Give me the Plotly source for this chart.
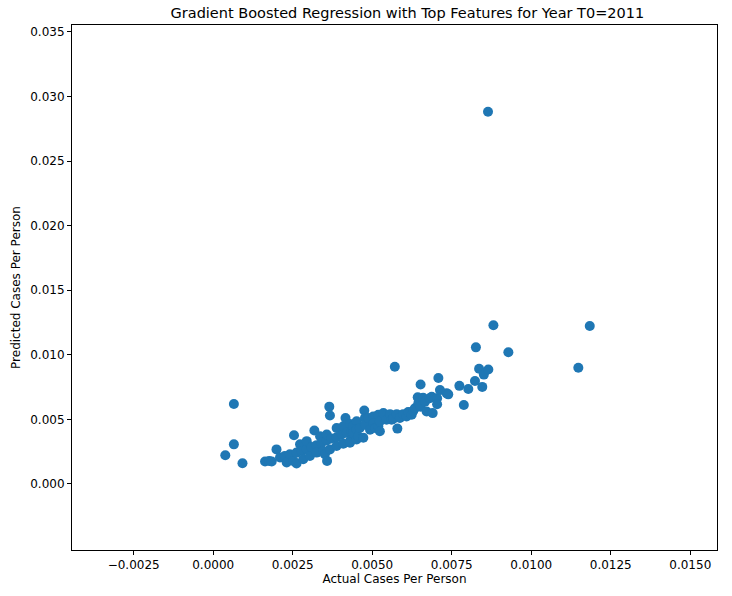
import plotly.graph_objects as go

actual = [0.00065, 0.00065, 0.00038, 0.00092, 0.00163, 0.00176, 0.00184, 0.00199, 0.00210, 0.00225,
          0.00231, 0.00241, 0.00252, 0.00254, 0.00262, 0.00262, 0.00273, 0.00278, 0.00283, 0.00294,
          0.00294, 0.00304, 0.00309, 0.00318, 0.00325, 0.00325, 0.00336, 0.00341, 0.00346, 0.00351,
          0.00357, 0.00357, 0.00358, 0.00365, 0.00367, 0.00367, 0.00372, 0.00388, 0.00388, 0.00388,
          0.00404, 0.00409, 0.00409, 0.00416, 0.00420, 0.00430, 0.00430, 0.00430, 0.00435, 0.00440,
          0.00440, 0.00451, 0.00451, 0.00451, 0.00456, 0.00461, 0.00472, 0.00475, 0.00477, 0.00477,
          0.00487, 0.00493, 0.00503, 0.00503, 0.00509, 0.00519, 0.00519, 0.00524, 0.00524, 0.00535,
          0.00545, 0.00556, 0.00561, 0.00566, 0.00571, 0.00577, 0.00579, 0.00587, 0.00597, 0.00608,
          0.00613, 0.00624, 0.00629, 0.00634, 0.00643, 0.00645, 0.00652, 0.00652, 0.00660, 0.00666,
          0.00671, 0.00681, 0.00687, 0.00690, 0.00704, 0.00704, 0.00708, 0.00713, 0.00734, 0.00739,
          0.00774, 0.00788, 0.00802, 0.00823, 0.00826, 0.00836, 0.00846, 0.00851, 0.00865, 0.00881,
          0.00928, 0.01148, 0.01184, 0.00864]

predicted = [0.00619, 0.00306, 0.00222, 0.00160, 0.00173, 0.00178, 0.00173, 0.00267, 0.00204, 0.00216,
             0.00166, 0.00229, 0.00178, 0.00377, 0.00242, 0.00158, 0.00306, 0.00254, 0.00191, 0.00267,
             0.00331, 0.00216, 0.00285, 0.00413, 0.00300, 0.00242, 0.00369, 0.00319, 0.00254, 0.00229,
             0.00336, 0.00382, 0.00178, 0.00598, 0.00530, 0.00267, 0.00352, 0.00361, 0.00433, 0.00293,
             0.00382, 0.00446, 0.00311, 0.00510, 0.00395, 0.00464, 0.00331, 0.00319, 0.00407, 0.00446,
             0.00395, 0.00484, 0.00420, 0.00344, 0.00369, 0.00433, 0.00357, 0.00568, 0.00510, 0.00458,
             0.00510, 0.00420, 0.00522, 0.00472, 0.00433, 0.00535, 0.00446, 0.00484, 0.00407, 0.00548,
             0.00497, 0.00540, 0.00497, 0.00504, 0.00907, 0.00540, 0.00428, 0.00510, 0.00540, 0.00522,
             0.00556, 0.00535, 0.00565, 0.00586, 0.00670, 0.00624, 0.00770, 0.00598, 0.00667, 0.00637,
             0.00560, 0.00663, 0.00675, 0.00548, 0.00663, 0.00617, 0.00820, 0.00726, 0.00701, 0.00693,
             0.00759, 0.00611, 0.00734, 0.00797, 0.01057, 0.00892, 0.00751, 0.00846, 0.00886, 0.01228,
             0.01019, 0.00899, 0.01223, 0.02881]

x_ticks = [-0.0025, 0.0, 0.0025, 0.005, 0.0075, 0.01, 0.0125, 0.015]
x_tick_labels = ["\u22120.0025", "0.0000", "0.0025", "0.0050", "0.0075", "0.0100", "0.0125", "0.0150"]
y_ticks = [0.0, 0.005, 0.01, 0.015, 0.02, 0.025, 0.03, 0.035]
y_tick_labels = ["0.000", "0.005", "0.010", "0.015", "0.020", "0.025", "0.030", "0.035"]

FONT = "DejaVu Sans"

fig = go.Figure(go.Scatter(
    x=actual, y=predicted, mode="markers",
    marker=dict(color="#1f77b4", size=10, line=dict(width=0)),
    showlegend=False,
))

axis_common = dict(
    showline=True, linecolor="black", linewidth=1, mirror=True,
    ticks="outside", ticklen=4, tickwidth=1, tickcolor="black",
    showgrid=False, zeroline=False,
    tickfont=dict(family=FONT, size=12, color="black"),
)

fig.update_layout(
    width=732, height=596,
    margin=dict(l=72, r=15, t=25, b=39),
    paper_bgcolor="white", plot_bgcolor="white",
    font=dict(family=FONT, color="black"),
    title=dict(text="Gradient Boosted Regression with Top Features for Year T0=2011",
               x=0.52, xref="paper", xanchor="center",
               y=1 - 13 / 596, yref="container", yanchor="middle",
               font=dict(family=FONT, size=14.5, color="black")),
    xaxis=dict(range=[-0.00444, 0.01584], tickvals=x_ticks, ticktext=x_tick_labels,
               title=dict(text="Actual Cases Per Person", font=dict(family=FONT, size=12), standoff=3),
               **axis_common),
    yaxis=dict(range=[-0.00512, 0.03553], tickvals=y_ticks, ticktext=y_tick_labels,
               title=dict(text="Predicted Cases Per Person", font=dict(family=FONT, size=12), standoff=7),
               **axis_common),
)

fig.write_html("out.html")
